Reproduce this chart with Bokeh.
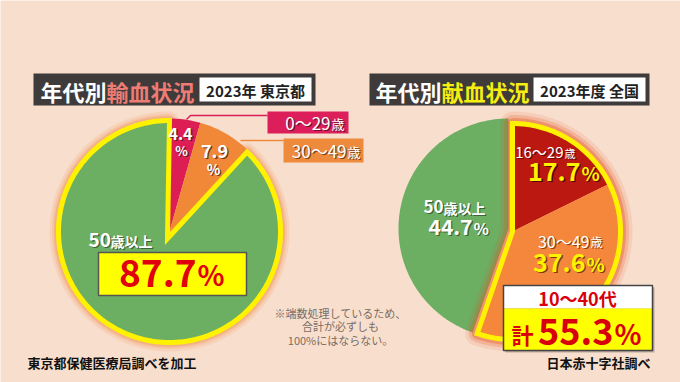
import numpy as np
from bokeh.plotting import figure
from bokeh.models import Range1d
from bokeh.core.properties import value
from bokeh.embed import file_html
from bokeh.resources import INLINE

# ---------------- data ----------------
left_title = "年代別"
left_title_hl = "輸血状況"
left_sub = "2023年 東京都"
left_categories = ["0〜29歳", "30〜49歳", "50歳以上"]
left_values = [4.4, 7.9, 87.7]
left_source = "東京都保健医療局調べを加工"

right_title = "年代別"
right_title_hl = "献血状況"
right_sub = "2023年度 全国"
right_categories = ["16〜29歳", "30〜49歳", "50歳以上"]
right_values = [17.7, 37.6, 44.7]
right_group_label = "10〜40代"
right_group_total = 55.3
right_source = "日本赤十字社調べ"

note_lines = ["※端数処理しているため、", "合計が必ずしも", "100%にはならない。"]

# ---------------- style ----------------
BG = "#F8DFCD"
FONT = value("Noto Sans CJK JP")
GREEN = "#6CAE62"
YELLOW = "#FFF200"

W, H = 680, 382
p = figure(width=W, height=H, output_backend="svg", toolbar_location=None,
           x_range=Range1d(0, 680), y_range=Range1d(382, 0),
           min_border=0, outline_line_color=None)
p.axis.visible = False
p.grid.visible = False
p.background_fill_color = BG
p.border_fill_color = BG


def fracs(vals):
    c = np.concatenate([[0.0], np.cumsum(vals)]) / 100.0
    return c


def wedge(cx, cy, r, f0, f1, apex=None):
    n = max(int(abs(f1 - f0) * 360), 2)
    t = np.linspace(f0, f1, n) * 2 * np.pi
    xs = cx + r * np.sin(t)
    ys = cy - r * np.cos(t)
    ax, ay = apex if apex is not None else (cx, cy)
    return [ax] + list(xs) + [ax], [ay] + list(ys) + [ay]


def glow(xs, ys, color, widths, alphas):
    for w_, a_ in zip(widths, alphas):
        p.line(xs, ys, line_color=color, line_width=w_, line_alpha=a_, line_join="round")


def txt(x, y, t, size, color, align="left", baseline="middle", shadow=None, style="bold"):
    if shadow:
        p.text([x + 1.3], [y + 1.3], text=[t], text_font=FONT, text_font_style=style,
               text_font_size=f"{size}px", text_color=shadow, text_alpha=0.8,
               text_align=align, text_baseline=baseline)
    p.text([x], [y], text=[t], text_font=FONT, text_font_style=style,
           text_font_size=f"{size}px", text_color=color,
           text_align=align, text_baseline=baseline)


def split_age(label):
    # digits part and trailing kanji part
    i = len(label)
    while i > 0 and not label[i - 1].isdigit():
        i -= 1
    return label[:i], label[i:]


# ---------------- titles ----------------
def title(x0, x1, wx0, wx1, tx, t1, t2, hl_color, sub):
    p.quad(left=[x0], right=[x1], top=[73], bottom=[105], fill_color="#3E3B3A", line_color=None)
    p.quad(left=[wx0], right=[wx1], top=[77], bottom=[101], fill_color="white", line_color=None)
    txt(tx, 90, t1, 22, "white")
    txt(tx + 66, 90, t2, 22, hl_color)
    txt((wx0 + wx1) / 2, 89.5, sub, 15, "#222222", align="center")


title(33, 315, 199, 311, 40, left_title, left_title_hl, "#EE7C74", left_sub)
title(369, 649, 533, 645, 375, right_title, right_title_hl, "#F6EE10", right_sub)

# ---------------- left pie ----------------
lc = (169, 231)
lr = 111
lapex = (167, 238)
lf = fracs(left_values)
gx, gy = wedge(lc[0], lc[1], lr, lf[2], lf[3], apex=lapex)
glow(gx, gy, "#F08A4A", [18, 13, 9], [0.14, 0.2, 0.32])
lcolors = ["#DC1E55", "#F08837"]
for i in range(2):
    xs, ys = wedge(lc[0], lc[1], lr + 2, lf[i], lf[i + 1], apex=lapex)
    p.patch(xs, ys, fill_color=lcolors[i], line_color=None)
p.patch(gx, gy, fill_color=GREEN, line_color=YELLOW, line_width=5, line_join="miter")

# leader lines and label boxes
p.line([186, 190, 267], [119, 115, 115], line_color="#DC1E5A", line_width=1.5)
p.line([240, 283], [140, 140], line_color="#EE8A3C", line_width=1.5)
p.quad(left=[267], right=[348], top=[111], bottom=[133], fill_color="#DC1E5A", line_color=None)
p.quad(left=[283], right=[363], top=[138], bottom=[162], fill_color="#EE8A3C", line_color=None)
a, b = split_age(left_categories[0])
txt(330, 122, a, 17, "white", align="right", shadow="#4A1020", style="normal")
txt(331, 123, b, 13, "white", align="left", shadow="#4A1020", style="normal")
a, b = split_age(left_categories[1])
txt(346, 150, a, 17, "white", align="right", shadow="#5A3010", style="normal")
txt(347, 151, b, 13, "white", align="left", shadow="#5A3010", style="normal")

# in-slice values
txt(180, 133, f"{left_values[0]}", 16, "white", align="center", shadow="#402020")
txt(181, 150, "%", 13, "white", align="center", shadow="#402020")
txt(214, 150, f"{left_values[1]}", 18, "white", align="center", shadow="#402020")
txt(213, 168, "%", 14, "white", align="center", shadow="#402020")

# 50歳以上 label
a, b = split_age(left_categories[2])
txt(88, 239, a, 19, "white", shadow="#2F4F2A")
txt(110, 240, b, 14, "white", shadow="#2F4F2A")
p.quad(left=[98], right=[246], top=[252], bottom=[295], fill_color="#FFFF00",
       line_color="#555555", line_width=1.5)
txt(196, 272.5, f"{left_values[2]}", 37, "#E0000E", align="right")
txt(197, 273.5, "%", 28, "#E0000E", align="left")

# ---------------- right pie ----------------
rc = (508, 228)
rr = 110
rf = fracs(right_values)
xs, ys = wedge(rc[0], rc[1], rr, rf[2], rf[3])
p.patch(xs, ys, fill_color=GREEN, line_color=None)
gc = (512, 231)
grr = 108
ox, oy = wedge(gc[0], gc[1], grr, rf[0], rf[2])
glow(ox, oy, "#E8501E", [24, 17, 11], [0.12, 0.2, 0.35])
rcolors = ["#BC1812", "#F5873C"]
for i in range(2):
    xs, ys = wedge(gc[0], gc[1], grr, rf[i], rf[i + 1])
    p.patch(xs, ys, fill_color=rcolors[i], line_color=None)
p.patch(ox, oy, fill_color=None, line_color=YELLOW, line_width=5, line_join="miter")

# right labels
a, b = split_age(right_categories[0])
txt(563, 151, a, 15, "white", align="right", style="normal", shadow="#500000")
txt(564, 152, b, 11, "white", align="left", style="normal", shadow="#500000")
txt(580, 171, f"{right_values[0]}", 25, "#FFF200", align="right", shadow="#3A0000")
txt(581, 172, "%", 19, "#FFF200", align="left", shadow="#3A0000")
a, b = split_age(right_categories[1])
txt(589, 240, a, 16, "white", align="right", style="normal", shadow="#6A3000")
txt(590, 241, b, 12, "white", align="left", style="normal", shadow="#6A3000")
txt(585, 261.5, f"{right_values[1]}", 25, "#FFF200", align="right", shadow="#5A2A00")
txt(586, 262.5, "%", 19, "#FFF200", align="left", shadow="#5A2A00")
a, b = split_age(right_categories[2])
txt(423, 206, a, 17, "white", shadow="#2F4F2A")
txt(443, 207, b, 14, "white", shadow="#2F4F2A")
txt(472, 226, f"{right_values[2]}", 21, "white", align="right", shadow="#2F4F2A")
txt(473, 227, "%", 16, "white", align="left", shadow="#2F4F2A")

# total box
p.quad(left=[505], right=[654], top=[287], bottom=[352], fill_color="#333333", fill_alpha=0.3, line_color=None)
p.quad(left=[503], right=[652], top=[285], bottom=[308], fill_color="white", line_color=None)
p.quad(left=[503], right=[652], top=[308], bottom=[350], fill_color="#FFFF00", line_color=None)
p.quad(left=[503], right=[652], top=[285], bottom=[350], fill_color=None, line_color="#444444", line_width=1.5)
txt(577, 297, right_group_label, 18, "#D8000C", align="center")
txt(511, 333, "計", 22, "#D8000C", align="left")
txt(613, 331, f"{right_group_total}", 36, "#D8000C", align="right")
txt(614, 332, "%", 28, "#D8000C", align="left")

# ---------------- notes and sources ----------------
for i, line in enumerate(note_lines):
    txt(340, 312 + i * 13.5, line, 11, "#7A6C64", align="center", style="normal")
txt(27, 362, left_source, 13, "#111111")
txt(650, 362, right_source, 13, "#111111", align="right")

html = file_html(p, INLINE)
open("out.html", "w").write(html)
